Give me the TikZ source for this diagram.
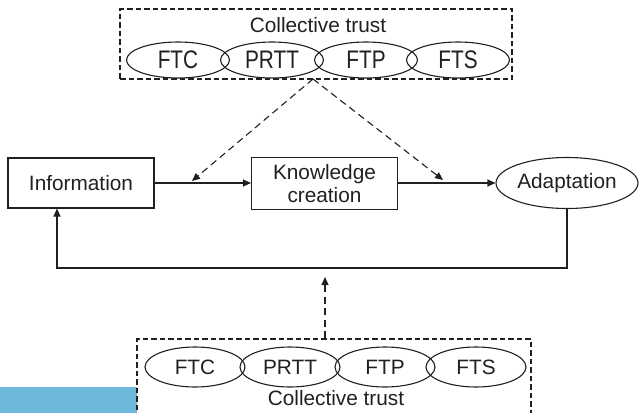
\documentclass[tikz,border=0pt]{standalone}
\usepackage{fontspec}
\setmainfont{Liberation Sans}
\usetikzlibrary{shapes.geometric,arrows.meta}
\definecolor{ink}{HTML}{231F20}
\definecolor{bluebar}{HTML}{6CB9D9}
\newcommand{\tallabel}[1]{\scalebox{1}[1.22]{#1}}
\tikzset{
  every node/.style={text=ink,font=\fontsize{20.8}{23}\selectfont},
  plainbox/.style={draw=ink,line width=1.1pt,rectangle,inner sep=0pt},
  groupbox/.style={draw=ink,line width=1.1pt,dash pattern=on 5.5pt off 3pt,rectangle,inner sep=0pt},
  oval/.style={draw=ink,line width=1.1pt,ellipse,inner sep=0pt},
  flow/.style={draw=ink,line width=1.1pt,-{Triangle[length=8pt,width=7pt]}},
  influence/.style={flow,dash pattern=on 7pt off 4.5pt},
}
\begin{document}
\begin{tikzpicture}[x=1pt,y=-1pt]
\useasboundingbox (0,0) rectangle (641,413);
% light blue bar
\fill[bluebar] (0,387) rectangle (137,413);
% top group
\node[groupbox,minimum width=392pt,minimum height=70pt] (topbox) at (316,44) {};
\node (toptitle) at (318,25) {Collective trust};
\node[oval,minimum width=103pt,minimum height=36pt] (tftc) at (178,60) {\tallabel{FTC}};
\node[oval,minimum width=103pt,minimum height=36pt] (tprtt) at (272,60) {\tallabel{PRTT}};
\node[oval,minimum width=103pt,minimum height=36pt] (tftp) at (366,60) {\tallabel{FTP}};
\node[oval,minimum width=103pt,minimum height=36pt] (tfts) at (458,60) {\tallabel{FTS}};
% main flow
\node[plainbox,minimum width=146pt,minimum height=50pt] (info) at (81,183) {Information};
\node[plainbox,minimum width=146pt,minimum height=52pt,align=center] (know) at (324.5,183.5) {Knowledge\\creation};
\node[oval,minimum width=142pt,minimum height=51pt] (adapt) at (567,183) {Adaptation};
\draw[flow] (info.east |- 0,183) -- (know.west |- 0,183);
\draw[flow] (know.east |- 0,183) -- (adapt.west);
% feedback loop
\coordinate (fbL) at (57,268);
\draw[flow] (adapt.south) |- (fbL) -- (fbL |- info.south);
% bottom group
\node[groupbox,minimum width=394pt,minimum height=90pt] (botbox) at (334,384) {};
\node[oval,minimum width=100pt,minimum height=40pt] (bftc) at (195,367) {FTC};
\node[oval,minimum width=100pt,minimum height=40pt] (bprtt) at (290,367) {PRTT};
\node[oval,minimum width=100pt,minimum height=40pt] (bftp) at (385,367) {FTP};
\node[oval,minimum width=100pt,minimum height=40pt] (bfts) at (476,367) {FTS};
\node (bottitle) at (336,398) {Collective trust};
% influences of collective trust
\coordinate (src) at (313,79);
\coordinate (tipA) at (192,181);
\coordinate (tipB) at (443,180);
\coordinate (tipC) at (325,277);
\draw[influence] (src) -- (tipA);
\draw[influence] (src) -- (tipB);
\draw[influence] (tipC |- botbox.north) -- (tipC);
\end{tikzpicture}
\end{document}
